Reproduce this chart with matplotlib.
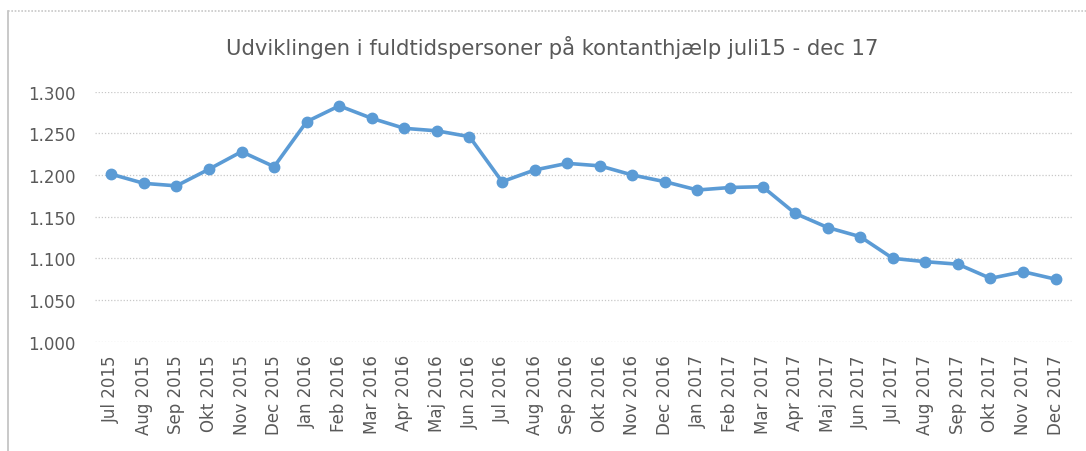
import matplotlib.pyplot as plt
from matplotlib.ticker import FuncFormatter, MultipleLocator
from matplotlib.lines import Line2D

months = ["Jul 2015", "Aug 2015", "Sep 2015", "Okt 2015", "Nov 2015", "Dec 2015",
          "Jan 2016", "Feb 2016", "Mar 2016", "Apr 2016", "Maj 2016", "Jun 2016",
          "Jul 2016", "Aug 2016", "Sep 2016", "Okt 2016", "Nov 2016", "Dec 2016",
          "Jan 2017", "Feb 2017", "Mar 2017", "Apr 2017", "Maj 2017", "Jun 2017",
          "Jul 2017", "Aug 2017", "Sep 2017", "Okt 2017", "Nov 2017", "Dec 2017"]
persons = [1201, 1190, 1187, 1207, 1228, 1210, 1264, 1283, 1268, 1256, 1253, 1246,
           1192, 1206, 1214, 1211, 1200, 1192, 1182, 1185, 1186, 1154, 1137, 1126,
           1100, 1096, 1093, 1076, 1084, 1075]

title = "Udviklingen i fuldtidspersoner på kontanthjælp juli15 - dec 17"
text_color = "#595959"
line_color = "#5b9bd5"

fig = plt.figure(figsize=(10.86, 4.52), dpi=100)
ax = fig.add_axes([0.0875, 0.2418, 0.8995, 0.5532])

x = list(range(len(months)))
ax.plot(x, persons, color=line_color, linewidth=2.6, marker="o",
        markersize=7.5, markeredgecolor=line_color, zorder=3)

ax.set_xlim(-0.5, len(months) - 0.5)
ax.set_ylim(1000, 1300)
ax.yaxis.set_major_locator(MultipleLocator(50))
ax.yaxis.set_major_formatter(FuncFormatter(lambda v, p: f"{v:,.0f}".replace(",", ".")))
ax.set_xticks(x)
ax.set_xticklabels(months, rotation=90)

ax.grid(axis="y", color="#c8c8c8", linestyle=(0, (1, 1.5)), linewidth=0.9)
ax.set_axisbelow(True)
for s in ax.spines.values():
    s.set_visible(False)
ax.tick_params(axis="y", length=0, pad=14, labelsize=12, labelcolor=text_color)
ax.tick_params(axis="x", length=0, pad=9, labelsize=12, labelcolor=text_color)

fig.text(0.508, 0.896, title, ha="center", va="center", fontsize=15.2, color=text_color)

# chart frame: only the left and top edges are inside the crop
fx, fy = 8 / 1086, 1 - 12 / 452
fig.add_artist(Line2D([fx, fx], [0, fy], transform=fig.transFigure,
                      color="#c0c0c0", linewidth=1.2))
fig.add_artist(Line2D([fx, 1], [fy, fy], transform=fig.transFigure,
                      color="#c8c8c8", linewidth=1.2, linestyle=(0, (1, 1))))

fig.savefig("out.png", dpi=100)
